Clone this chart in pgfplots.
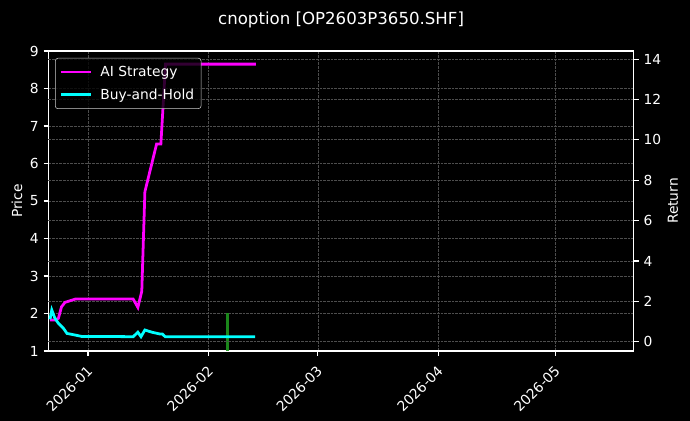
\documentclass[border=0pt]{standalone}
\usepackage{pgfplots}
\pgfplotsset{compat=1.18}
\usepackage{fontspec}
\setmainfont{DejaVu Sans}
\definecolor{gridc}{HTML}{4D4D4D}
\definecolor{aimag}{HTML}{FF00FF}
\definecolor{bhcyan}{HTML}{00FFFF}
\definecolor{grn}{HTML}{1E961E}
\definecolor{legedge}{HTML}{CCCCCC}
\pgfplotsset{
  darkstyle/.style={
    scale only axis,
    width=5.854in, height=3.0in,
    xmin=-10.17, xmax=140.1,
    axis line style={white, line width=0.8pt},
    every tick/.style={white, line width=0.8pt},
    tick align=outside,
    major tick length=3.5pt,
    tick label style={white, font=\fontsize{10}{12}\selectfont},
    label style={white, font=\fontsize{10}{12}\selectfont},
    /pgf/number format/assume math mode=true,
    grid style={gridc, line width=0.5pt, dash pattern=on 1.85pt off 0.8pt},
  }
}
\begin{document}
\begin{tikzpicture}
\fill[black] (0,0) rectangle (6.9in,4.21in);
\begin{axis}[darkstyle,
  at={(0.484in,0.70in)}, anchor=south west,
  ymin=1, ymax=9, ytick={1,2,3,4,5,6,7,8,9},
  xtick={0,31,59,90,120},
  xticklabels={2026-01,2026-02,2026-03,2026-04,2026-05},
  xticklabel style={rotate=45, anchor=north east, xshift=-2pt},
  xtick pos=bottom, ytick pos=left,
  xmajorgrids, ymajorgrids,
  ylabel={Price},
  ylabel style={at={(axis description cs:-0.0536,0.5)}, anchor=center, rotate=0},
  title={cnoption [OP2603P3650.SHF]},
  title style={white, font=\fontsize{12}{14}\selectfont, at={(axis description cs:0.5,1.077)}, anchor=center},
]
\addplot[grn, line width=1.5pt, opacity=0.9] coordinates {(35.8,1) (35.8,2)};
\end{axis}
\begin{axis}[darkstyle,
  at={(0.484in,0.70in)}, anchor=south west,
  ymin=-0.46, ymax=14.40, ytick={0,2,4,6,8,10,12,14},
  axis x line=none, axis y line*=right,
  ytick pos=right,
  ymajorgrids,
  ylabel={Return},
  ylabel style={at={(axis description cs:1.067,0.5)}, anchor=center, rotate=0},
  legend cell align=left,
  legend style={at={(axis description cs:0.0113,0.977)}, anchor=north west,
    fill=black, fill opacity=0.8, text opacity=1, draw=legedge, rounded corners=2pt,
    text=white, font=\fontsize{10}{12}\selectfont,
    inner xsep=3pt, inner ysep=3.5pt, row sep=3.5pt, column sep=4pt},
  legend image code/.code={\draw[#1] (0pt,0pt) -- (21.6pt,0pt);},
]
\addplot[aimag, line width=2pt] coordinates {
(-9.76,1.07) (-8.5,1.07) (-7.6,1.16) (-6.8,1.73) (-5.9,1.95) (-3.3,2.11) (11.6,2.11) (12.8,1.7)
(13.8,2.5) (14.6,7.43) (17.6,9.79) (18.7,9.79) (19.9,13.75) (43.1,13.75)};
\addlegendentry{AI Strategy}
\addplot[bhcyan, line width=2pt] coordinates {
(-9.76,1.11) (-9.3,1.57) (-8.5,1.16) (-7.6,0.91) (-6.3,0.66) (-5.4,0.41) (-3.3,0.33) (-1.6,0.26)
(11.6,0.25) (12.8,0.47) (13.6,0.25) (14.6,0.58) (16.4,0.47) (18.5,0.38) (19.1,0.38)
(19.8,0.25) (42.9,0.25)};
\addlegendentry{Buy-and-Hold}
\end{axis}
\pgfresetboundingbox
\path (0,0) rectangle (6.9in,4.21in);
\end{tikzpicture}
\end{document}
